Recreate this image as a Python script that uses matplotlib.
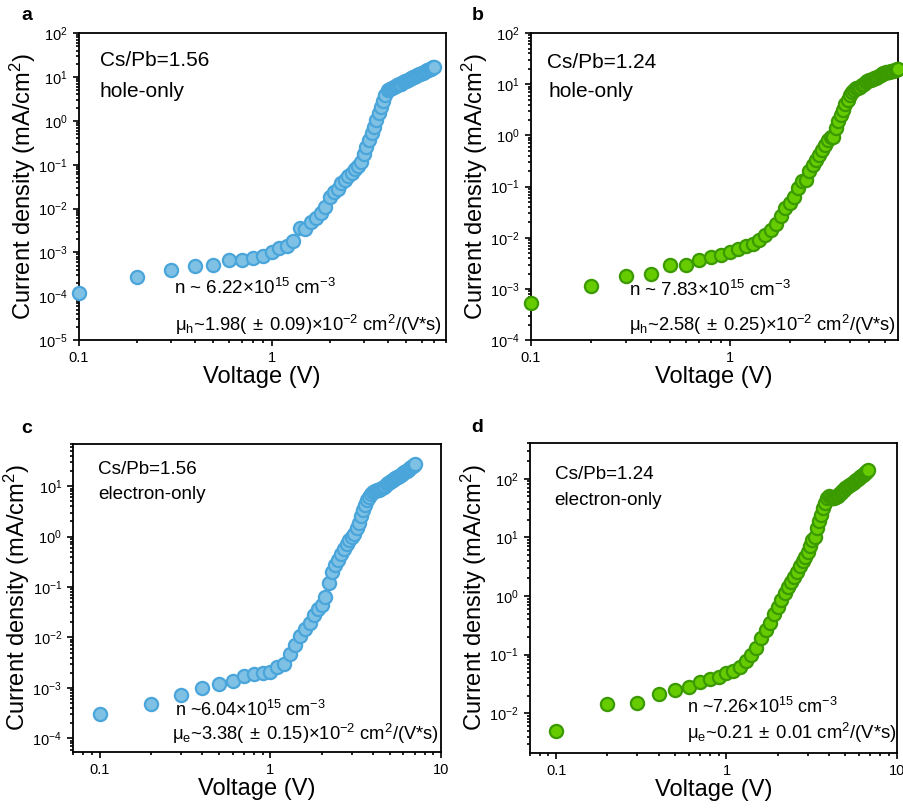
import numpy as np
import matplotlib
matplotlib.use("Agg")
from matplotlib import pyplot as plt
from matplotlib.ticker import LogLocator, FuncFormatter, NullFormatter

plt.rcParams['font.family'] = ['Liberation Sans', 'DejaVu Sans']
plt.rcParams['mathtext.default'] = 'regular'

# current density (mA/cm2), voltage sweep in 0.1 V steps
J_a = [1.2e-4, 2.7e-4, 3.9e-4, 4.9e-4, 5.2e-4, 6.9e-4, 6.9e-4, 7.6e-4, 8.3e-4, 1.05e-3,
       1.25e-3, 1.4e-3, 1.85e-3, 3.6e-3, 3.4e-3, 5.0e-3, 6.0e-3, 7.8e-3, 1.07e-2, 1.85e-2,
       2.4e-2, 2.8e-2, 3.8e-2, 4.5e-2, 5.4e-2, 6.4e-2, 8.0e-2, 9.2e-2, 0.118, 0.18,
       0.26, 0.37, 0.52, 0.74, 1.05, 1.5, 2.1, 2.9, 3.9, 5.0,
       5.25, 5.5, 5.9, 6.2, 6.5, 6.8, 7.1, 7.6, 7.9, 8.3,
       8.7, 9.1, 9.5, 10.0, 10.2, 10.7, 11.0, 11.5, 11.7, 12.3,
       12.6, 13.2, 13.5, 14.1, 14.5, 15.1, 15.5, 16.2, 16.6, 17.0]
J_b = [5.4e-4, 1.15e-3, 1.8e-3, 2.0e-3, 2.9e-3, 2.9e-3, 3.7e-3, 4.3e-3, 4.6e-3, 5.3e-3,
       6.0e-3, 6.8e-3, 7.5e-3, 9.1e-3, 1.13e-2, 1.4e-2, 1.85e-2, 2.7e-2, 3.8e-2, 4.9e-2,
       6.4e-2, 9.3e-2, 0.13, 0.135, 0.20, 0.26, 0.33, 0.41, 0.52, 0.65,
       0.81, 0.94, 0.93, 1.4, 1.9, 2.5, 3.2, 4.1, 4.9, 6.2,
       7.1, 7.9, 8.3, 8.6, 8.9, 9.5, 10.2, 10.9, 11.4, 12.0,
       12.4, 12.8, 13.2, 13.5, 13.8, 14.4, 15.0, 15.6, 16.3, 17.0,
       17.2, 17.4, 17.6, 17.8, 18.0, 18.4, 18.8, 19.2, 19.6, 20.0]
J_c = [3.1e-4, 4.7e-4, 7.4e-4, 1.0e-3, 1.17e-3, 1.4e-3, 1.7e-3, 1.85e-3, 2.0e-3, 2.1e-3,
       2.6e-3, 3.0e-3, 4.8e-3, 7.0e-3, 1.05e-2, 1.5e-2, 1.95e-2, 2.8e-2, 3.7e-2, 4.5e-2,
       6.3e-2, 0.118, 0.20, 0.27, 0.35, 0.45, 0.58, 0.70, 0.85, 1.0,
       1.15, 1.45, 1.9, 2.6, 3.3, 4.2, 5.3, 6.1, 6.9, 7.7,
       8.0, 8.3, 8.5, 8.8, 9.4, 9.8, 10.3, 10.9, 11.5, 12.2,
       12.7, 13.2, 13.7, 14.3, 14.9, 15.5, 16.1, 16.8, 17.5, 18.3,
       19.0, 19.7, 20.4, 21.2, 22.0, 23.0, 24.0, 25.1, 26.3, 27.5]
J_d = [4.9e-3, 1.42e-2, 1.5e-2, 2.1e-2, 2.5e-2, 2.8e-2, 3.4e-2, 3.8e-2, 4.2e-2, 4.8e-2,
       5.3e-2, 6.2e-2, 7.7e-2, 9.8e-2, 0.128, 0.196, 0.26, 0.35, 0.50, 0.66,
       0.85, 1.12, 1.42, 1.75, 2.1, 2.6, 3.2, 3.9, 4.7, 5.7,
       7.0, 9.1, 10.3, 14.4, 18.7, 24, 31.6, 38, 46.5, 51,
       48, 46, 47, 49, 51, 54, 57, 61, 65, 69,
       72, 75, 78, 81, 84, 88, 92, 95, 99, 103,
       107, 111, 115, 120, 125, 130, 135, 139]

ratios = ['Cs/Pb=1.56', 'Cs/Pb=1.24', 'Cs/Pb=1.56', 'Cs/Pb=1.24']
kinds = ['hole-only', 'hole-only', 'electron-only', 'electron-only']
n_txt = [r'n ~ 6.22$\times$10$^{15}$ cm$^{-3}$',
         r'n ~ 7.83$\times$10$^{15}$ cm$^{-3}$',
         r'n ~6.04$\times$10$^{15}$ cm$^{-3}$',
         r'n ~7.26$\times$10$^{15}$ cm$^{-3}$']
mu_txt = [r'$\mu_h$~1.98($\,\pm\,$0.09)$\times$10$^{-2}$ cm$^2$/(V*s)',
          r'$\mu_h$~2.58($\,\pm\,$0.25)$\times$10$^{-2}$ cm$^2$/(V*s)',
          r'$\mu_e$~3.38($\,\pm\,$0.15)$\times$10$^{-2}$ cm$^2$/(V*s)',
          r'$\mu_e$~0.21$\,\pm\,$0.01 cm$^2$/(V*s)']

blue = ('#7fc1e5', '#4aa5da')
green = ('#66cc00', '#3a9a00')

panels = [
    dict(J=J_a, col=blue, pos=[0.087, 0.579, 0.406, 0.380], xl=(0.1, 8), yl=(1e-5, 1e2),
         t1=(0.057, 0.91), t2=(0.057, 0.81), t3=(0.26, 0.17), t4=(0.262, 0.05),
         fs=15, fn=13.5, fm=13.2),
    dict(J=J_b, col=green, pos=[0.587, 0.579, 0.406, 0.380], xl=(0.1, 6.95), yl=(1e-4, 1e2),
         t1=(0.044, 0.905), t2=(0.05, 0.81), t3=(0.267, 0.163), t4=(0.267, 0.05),
         fs=15, fn=13.5, fm=13.2),
    dict(J=J_c, col=blue, pos=[0.081, 0.069, 0.407, 0.382], xl=(0.07, 10), yl=(5.3e-5, 70),
         t1=(0.068, 0.916), t2=(0.068, 0.835), t3=(0.277, 0.136), t4=(0.268, 0.06),
         fs=13.6, fn=13, fm=13.2),
    dict(J=J_d, col=green, pos=[0.586, 0.068, 0.406, 0.384], xl=(0.07, 10), yl=(2.1e-3, 410),
         t1=(0.068, 0.897), t2=(0.068, 0.813), t3=(0.428, 0.148), t4=(0.428, 0.065),
         fs=13.6, fn=13, fm=13.3),
]

fig = plt.figure(figsize=(9.04, 8.08), dpi=100)

for i, p in enumerate(panels):
    ax = fig.add_axes(p['pos'])
    J = np.array(p['J'])
    V = np.round(np.arange(1, len(J) + 1) * 0.1, 1)
    ax.plot(V, J, 'o', ms=9.5, mfc=p['col'][0], mec=p['col'][1], mew=1.6, clip_on=False, zorder=3)
    ax.set_xscale('log')
    ax.set_yscale('log')
    ax.set_xlim(*p['xl'])
    ax.set_ylim(*p['yl'])
    ax.xaxis.set_major_formatter(FuncFormatter(lambda v, pos: '%g' % v))
    ax.xaxis.set_minor_formatter(NullFormatter())
    ax.yaxis.set_major_locator(LogLocator(base=10, numticks=20))
    ax.yaxis.set_minor_locator(LogLocator(base=10, subs=np.arange(2, 10), numticks=20))
    ax.yaxis.set_minor_formatter(NullFormatter())
    ax.tick_params(which='both', direction='out', width=1.2, labelsize=10.5, top=False, right=False)
    ax.tick_params(which='major', length=4.5)
    ax.tick_params(which='minor', length=2.5)
    for s in ax.spines.values():
        s.set_linewidth(1.3)
    ax.set_xlabel('Voltage (V)', fontsize=17, labelpad=0.5)
    ax.set_ylabel('Current density (mA/cm$^2$)', fontsize=17)
    ax.yaxis.set_label_coords(-0.111, 0.5)
    ax.text(*p['t1'], ratios[i], transform=ax.transAxes, fontsize=p['fs'], va='center')
    ax.text(*p['t2'], kinds[i], transform=ax.transAxes, fontsize=p['fs'], va='center')
    ax.text(*p['t3'], n_txt[i], transform=ax.transAxes, fontsize=p['fn'], va='center')
    ax.text(*p['t4'], mu_txt[i], transform=ax.transAxes, fontsize=p['fm'], va='center')

# panel letters
fig.text(0.024, 0.981, 'a', fontsize=14, fontweight='bold', va='center')
fig.text(0.522, 0.981, 'b', fontsize=14, fontweight='bold', va='center')
fig.text(0.024, 0.470, 'c', fontsize=14, fontweight='bold', va='center')
fig.text(0.521, 0.471, 'd', fontsize=14, fontweight='bold', va='center')

fig.savefig('out.png', dpi=100)
